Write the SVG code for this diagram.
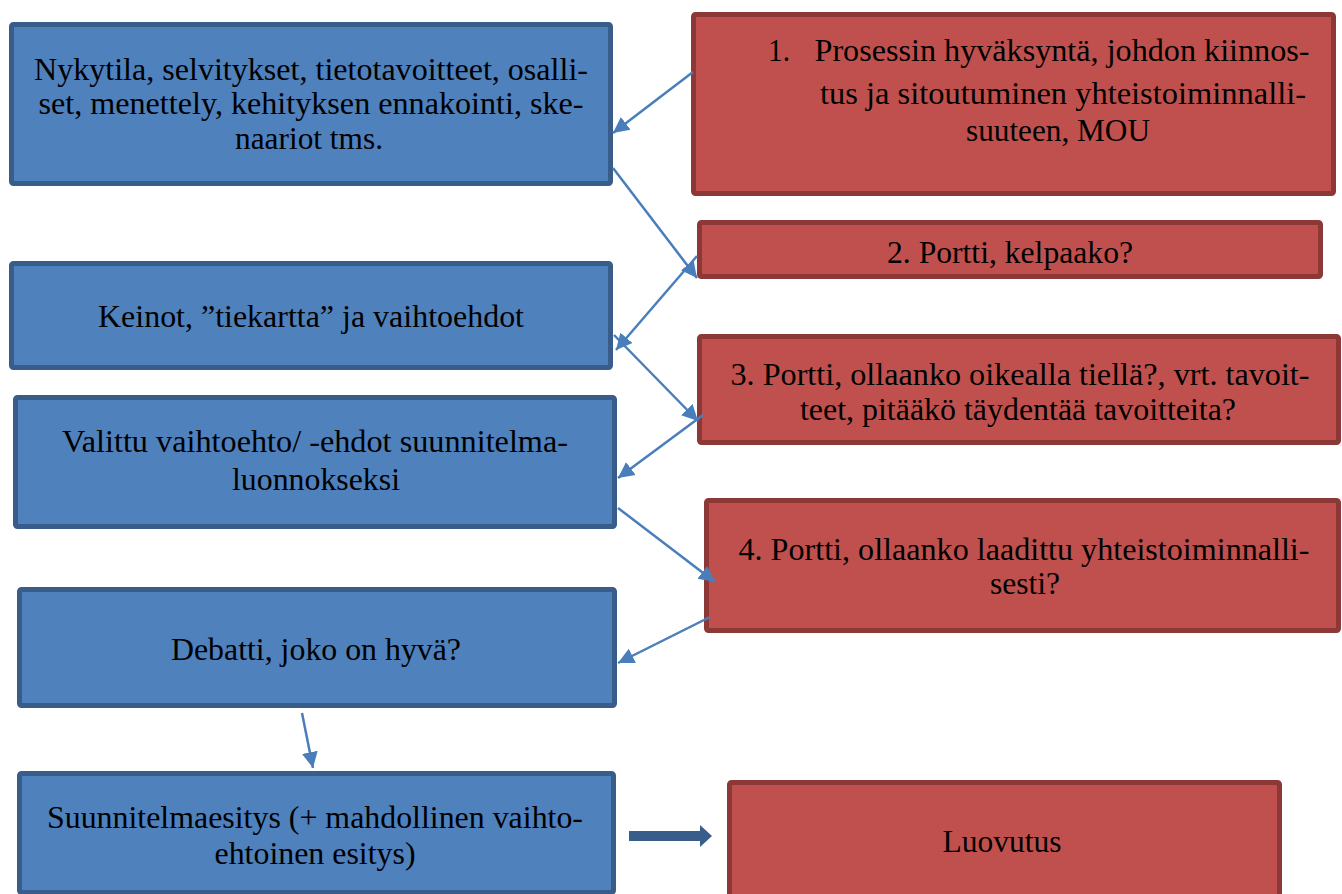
<svg xmlns="http://www.w3.org/2000/svg" width="1342" height="894" viewBox="0 0 1342 894">
<style>
.b{fill:#4F81BD;stroke:#385D8A;stroke-width:5}
.r{fill:#C0504D;stroke:#8C3836;stroke-width:5}
.rs{fill:none;stroke:#8C3836;stroke-width:5}
text{font-family:"Liberation Serif","Times New Roman",serif;font-size:31px;fill:#000;text-anchor:middle}
.c{stroke:#4A7EBB;stroke-width:2.5;fill:none;marker-end:url(#ah)}
</style>
<defs>
<marker id="ah" markerUnits="userSpaceOnUse" markerWidth="20" markerHeight="20" refX="16" refY="8" orient="auto" viewBox="0 0 20 16">
<path d="M0,0 L16,8 L0,16 z" fill="#4A7EBB"/>
</marker>
</defs>
<rect width="1342" height="894" fill="#fff"/>
<g id="n1"><rect class="b" x="11.5" y="24.5" width="599" height="159" rx="2"/>
<text x="311" y="80" textLength="554" lengthAdjust="spacingAndGlyphs">Nykytila, selvitykset, tietotavoitteet, osalli-</text>
<text x="311" y="114" textLength="545" lengthAdjust="spacingAndGlyphs">set, menettely, kehityksen ennakointi, ske-</text>
<text x="309" y="149" textLength="148" lengthAdjust="spacingAndGlyphs">naariot tms.</text></g>
<g id="n2"><rect class="b" x="11.5" y="263.5" width="599" height="104" rx="2"/>
<text x="311" y="327" textLength="426" lengthAdjust="spacingAndGlyphs">Keinot, ”tiekartta” ja vaihtoehdot</text></g>
<g id="n3"><rect class="b" x="15.5" y="397.5" width="599" height="129" rx="2"/>
<text x="315" y="452" textLength="506" lengthAdjust="spacingAndGlyphs">Valittu vaihtoehto/ -ehdot suunnitelma-</text>
<text x="316" y="490" textLength="168" lengthAdjust="spacingAndGlyphs">luonnokseksi</text></g>
<g id="n4"><rect class="b" x="19.5" y="589.5" width="595" height="116" rx="2"/>
<text x="316" y="660" textLength="290" lengthAdjust="spacingAndGlyphs">Debatti, joko on hyvä?</text></g>
<g id="n5"><rect class="b" x="19.5" y="773.5" width="594" height="119" rx="2"/>
<text x="315" y="828" textLength="536" lengthAdjust="spacingAndGlyphs">Suunnitelmaesitys (+ mahdollinen vaihto-</text>
<text x="315" y="864" textLength="201" lengthAdjust="spacingAndGlyphs">ehtoinen esitys)</text></g>
<g id="r1"><rect class="r" x="693.5" y="14.5" width="640" height="179" rx="2"/>
<text x="779" y="61" textLength="22" lengthAdjust="spacingAndGlyphs">1.</text>
<text x="1062" y="61" textLength="495" lengthAdjust="spacingAndGlyphs">Prosessin hyväksyntä, johdon kiinnos-</text>
<text x="1063" y="104" textLength="486" lengthAdjust="spacingAndGlyphs">tus ja sitoutuminen yhteistoiminnalli-</text>
<text x="1058" y="141" textLength="184" lengthAdjust="spacingAndGlyphs">suuteen, MOU</text></g>
<g id="r2"><rect x="699.5" y="222.5" width="621" height="54" rx="2" fill="#C0504D"/>
<text x="1010" y="263" textLength="246" lengthAdjust="spacingAndGlyphs">2. Portti, kelpaako?</text>
<rect class="rs" x="699.5" y="222.5" width="621" height="54" rx="2"/></g>
<g id="r3"><rect class="r" x="699.5" y="336.5" width="639" height="106" rx="2"/>
<text x="1020" y="385" textLength="579" lengthAdjust="spacingAndGlyphs">3. Portti, ollaanko oikealla tiellä?, vrt. tavoit-</text>
<text x="1018" y="420" textLength="436" lengthAdjust="spacingAndGlyphs">teet, pitääkö täydentää tavoitteita?</text></g>
<g id="r4"><rect class="r" x="706.5" y="500.5" width="632" height="130" rx="2"/>
<text x="1024" y="560" textLength="571" lengthAdjust="spacingAndGlyphs">4. Portti, ollaanko laadittu yhteistoiminnalli-</text>
<text x="1025" y="594" textLength="70" lengthAdjust="spacingAndGlyphs">sesti?</text></g>
<g id="r5"><rect class="r" x="729.5" y="782.5" width="550" height="120" rx="2"/>
<text x="1002" y="852" textLength="119" lengthAdjust="spacingAndGlyphs">Luovutus</text></g>
<g id="connectors">
<line class="c" x1="693" y1="72" x2="613" y2="133"/>
<line class="c" x1="613" y1="168" x2="697" y2="278"/>
<line class="c" x1="697" y1="256" x2="616" y2="350"/>
<line class="c" x1="614" y1="335" x2="698" y2="421"/>
<line class="c" x1="703" y1="415" x2="618" y2="478"/>
<line class="c" x1="618" y1="508" x2="715" y2="582"/>
<line class="c" x1="710" y1="617" x2="618" y2="663"/>
<line class="c" x1="302" y1="713" x2="313" y2="768"/>
<polygon points="629,831 700,831 700,825 712,836 700,847 700,841 629,841" fill="#385D8A"/>
</g>
</svg>
